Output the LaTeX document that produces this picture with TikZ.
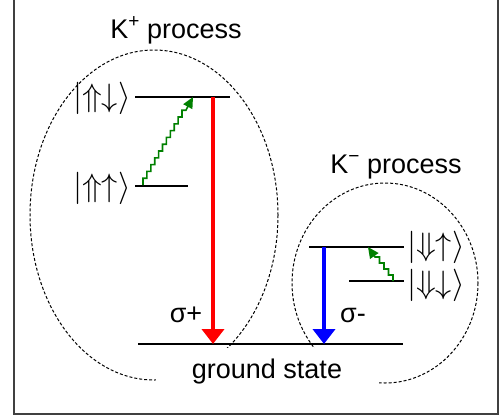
\RequirePackage{fix-cm}
\documentclass[tikz,border=0pt]{standalone}
\usepackage{graphicx}
\usepackage{fontspec}
\setmainfont{Liberation Sans}
\usetikzlibrary{arrows.meta,calc}
\definecolor{frameg}{HTML}{404040}
\definecolor{photgreen}{HTML}{008000}
\newcommand{\bigket}[1]{\scalebox{1.2}{$|#1\rangle$}}
\newcommand{\valsup}[1]{\raisebox{11pt}{\fontsize{19}{20}\selectfont #1}}

\begin{document}
\begin{tikzpicture}[
  x=1pt,y=-1pt,
  font=\fontsize{27}{32}\selectfont,
  lvl/.style={line width=2pt,black},
  ket/.style={inner sep=0pt},
  lbl/.style={inner sep=0pt,anchor=base},
  envl/.style={dashed,line width=1pt,dash pattern=on 3pt off 2pt},
  emis/.style={line width=4pt,-{Triangle[length=15pt,width=22pt]}},
  phon/.style={line width=1.6pt,photgreen,-{Triangle[length=11pt,width=10pt]}},
]
\useasboundingbox (0,0) rectangle (502,416);
% Frame (top edge cut off)
\draw[frameg,line width=2pt] (14,0) -- (14,414) -- (498,414) -- (498,0);

% Dashed envelopes
\draw[envl] (154,215) ellipse [x radius=124,y radius=165];
\draw[envl] (385,283) ellipse [x radius=93,y radius=100];

% Titles
\node[lbl] (kplus)  at (176,38)  {K\valsup{+} process};
\node[lbl] (kminus) at (396,173) {K\valsup{−} process};

% K+ levels
\coordinate (pupL) at (135,97);  \coordinate (pupR) at (230,97);
\coordinate (plowL) at (135,186); \coordinate (plowR) at (188,186);
\draw[lvl] (pupL) -- (pupR);
\draw[lvl] (plowL) -- (plowR);
\node[ket,anchor=east] (ketpu) at (131,98)  {\bigket{{\Uparrow}{\downarrow}}};
\node[ket,anchor=east] (ketpl) at (131,188) {\bigket{{\Uparrow}{\uparrow}}};

% K- levels
\coordinate (mupL) at (309,247);  \coordinate (mupR) at (404,247);
\coordinate (mlowL) at (349,281); \coordinate (mlowR) at (404,281);
\draw[lvl] (mupL) -- (mupR);
\draw[lvl] (mlowL) -- (mlowR);
\node[ket,anchor=west] (ketmu) at (407,247) {\bigket{{\Downarrow}{\uparrow}}};
\node[ket,anchor=west] (ketml) at (407,285) {\bigket{{\Downarrow}{\downarrow}}};

% Ground state (white label box hides the envelope bottoms)
\coordinate (gL) at (138,344); \coordinate (gR) at (403,344);
\fill[white] (156,348) rectangle (379,395);
\draw[lvl] (gL) -- (gR);
\node[lbl] (gs) at (267,378) {ground state};

% Emission arrows
\coordinate (redtop) at (213,97);  \coordinate (redbot) at (213,344);
\coordinate (bluetop) at (324,247); \coordinate (bluebot) at (324,344);
\draw[emis,red] (redtop) -- (redbot);
\draw[emis,blue] (bluetop) -- (bluebot);
\node[lbl] (sigp) at (186,322) {σ+};
\node[lbl] (sigm) at (353,322) {σ-};

% Spin-flip (staircase) arrows
\coordinate (ph1s) at (143,185); \coordinate (ph1e) at (193,97);
\draw[phon] (ph1s) \foreach \i in {1,...,11} { -- ++(0,-6.8) -- ++(3.9,0) } -- (ph1e);
\coordinate (ph2s) at (393,281); \coordinate (ph2e) at (368,247);
\draw[phon] (ph2s) \foreach \i in {1,...,4} { -- ++(0,-6) -- ++(-4.5,0) } -- (ph2e);
\end{tikzpicture}
\end{document}
